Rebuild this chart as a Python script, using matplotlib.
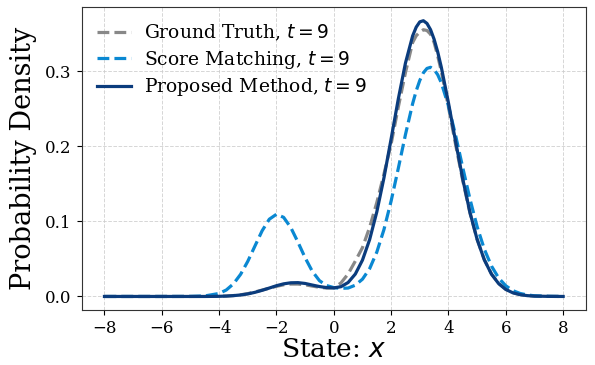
import matplotlib
matplotlib.use("Agg")
import matplotlib.pyplot as plt

# state grid (x) and densities
x = [-8, -7, -6, -5, -4.5, -4, -3.75, -3.5, -3.25, -3, -2.75, -2.5, -2.25, -2,
     -1.75, -1.5, -1.25, -1, -0.75, -0.5, -0.25, 0, 0.25, 0.5, 0.75, 1, 1.25,
     1.5, 1.75, 2, 2.25, 2.5, 2.75, 2.875, 3, 3.125, 3.25, 3.375, 3.5, 3.625,
     3.75, 4, 4.25, 4.5, 4.75, 5, 5.25, 5.5, 5.75, 6, 6.25, 6.5, 6.75, 7, 7.5, 8]

ground_truth = [0, 0, 0, 0, 0.0001, 0.0003, 0.0006, 0.0012, 0.0022, 0.0038,
                0.0060, 0.0085, 0.0110, 0.0135, 0.0155, 0.0165, 0.0165, 0.0155,
                0.0138, 0.0122, 0.0112, 0.0115, 0.0180, 0.0300, 0.0470, 0.0650,
                0.0920, 0.1250, 0.1630, 0.2030, 0.2520, 0.2980, 0.3380, 0.3470,
                0.3520, 0.3550, 0.3540, 0.3490, 0.3380, 0.3200, 0.3000, 0.2520,
                0.2020, 0.1540, 0.1110, 0.0760, 0.0490, 0.0300, 0.0175, 0.0095,
                0.0050, 0.0025, 0.0012, 0.0005, 0.0001, 0]

score_matching = [0, 0, 0, 0.0001, 0.0007, 0.0040, 0.0086, 0.0168, 0.0295,
                  0.0468, 0.0672, 0.0874, 0.1028, 0.1094, 0.1053, 0.0917,
                  0.0723, 0.0515, 0.0335, 0.0210, 0.0145, 0.0118, 0.0108,
                  0.0112, 0.0150, 0.0230, 0.0370, 0.0590, 0.0891, 0.1271,
                  0.1705, 0.2155, 0.2566, 0.2737, 0.2876, 0.2977, 0.3035,
                  0.3050, 0.3020, 0.2951, 0.2844, 0.2536, 0.2141, 0.1712,
                  0.1296, 0.0929, 0.0630, 0.0405, 0.0246, 0.0142, 0.0077,
                  0.0040, 0.0020, 0.0009, 0.0002, 0]

proposed = [0, 0, 0, 0, 0, 0.0002, 0.0005, 0.0011, 0.0020, 0.0034, 0.0055,
            0.0082, 0.0112, 0.0143, 0.0168, 0.0182, 0.0184, 0.0173, 0.0152,
            0.0132, 0.0118, 0.0114, 0.0130, 0.0186, 0.0298, 0.0484, 0.0757,
            0.1125, 0.1580, 0.2098, 0.2628, 0.3107, 0.3468, 0.3585, 0.3655,
            0.3670, 0.3634, 0.3551, 0.3422, 0.3254, 0.3052, 0.2576, 0.2060,
            0.1560, 0.1118, 0.0759, 0.0488, 0.0297, 0.0171, 0.0093, 0.0048,
            0.0024, 0.0011, 0.0005, 0.0001, 0]

plt.rcParams["font.family"] = "DejaVu Serif"
plt.rcParams["mathtext.fontset"] = "dejavusans"

fig = plt.figure(figsize=(5.95, 3.65), dpi=100)
ax = fig.add_axes([0.137, 0.150, 0.848, 0.831])

ax.plot(x, ground_truth, "--", color="#888888", lw=2.3, label="Ground Truth, $t=9$")
ax.plot(x, score_matching, "--", color="#0a88d2", lw=2.3, label="Score Matching, $t=9$")
ax.plot(x, proposed, "-", color="#0b3c7d", lw=2.3, label="Proposed Method, $t=9$")

ax.set_xticks(range(-8, 9, 2))
ax.set_yticks([0.0, 0.1, 0.2, 0.3])
ax.tick_params(labelsize=12)
ax.grid(True, linestyle="--", color="#cccccc", linewidth=0.7, alpha=0.8)
for s in ax.spines.values():
    s.set_color("#333333")

ax.set_xlabel("State: $x$", fontsize=19, labelpad=0)
ax.set_ylabel("Probability Density", fontsize=19.5, labelpad=6)
ax.legend(loc="upper left", fontsize=13.5, frameon=False, handlelength=1.8,
          handletextpad=0.7, borderaxespad=0.45, labelspacing=0.3)

fig.savefig("out.png", dpi=100)
